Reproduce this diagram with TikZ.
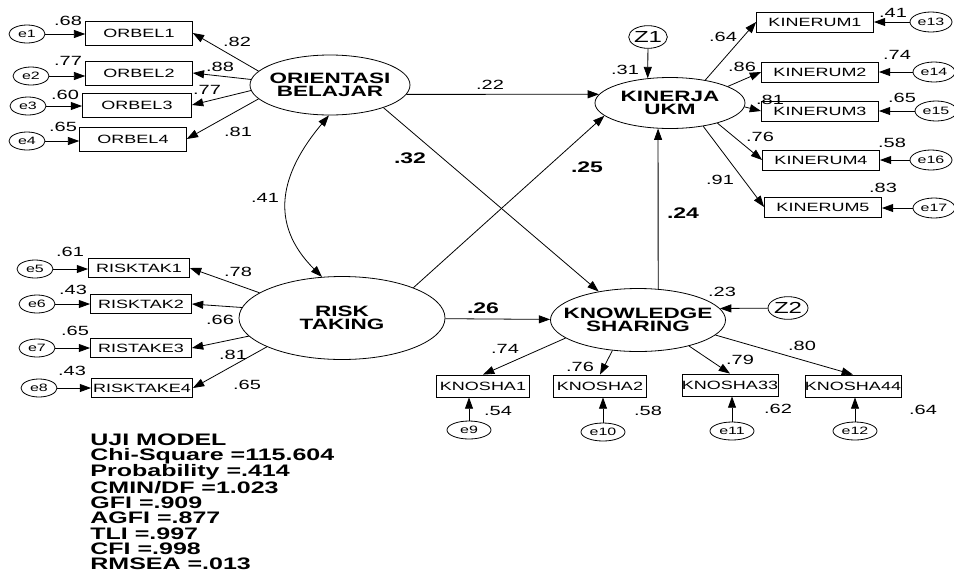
\documentclass[tikz,border=0pt]{standalone}
\usepackage{fontspec}
\setmainfont{Liberation Sans}[FakeStretch=1.5]
\usetikzlibrary{arrows.meta,shapes}

\begin{document}
\begin{tikzpicture}[x=0.75pt,y=-0.75pt,line width=0.6pt,
	>={Triangle[length=8.5pt,width=6pt]},
	lat/.style={draw,ellipse,inner xsep=-30pt,inner ysep=-12pt,align=center,font=\fontsize{11.25}{10}\selectfont\bfseries},
	orbox/.style={draw,inner sep=0pt,minimum width=80pt,minimum height=18pt,font=\fontsize{9}{10}\selectfont},
	rtbox/.style={draw,inner sep=0pt,minimum width=75.75pt,minimum height=14.25pt,font=\fontsize{9}{10}\selectfont},
	kubox/.style={draw,inner sep=0pt,minimum width=87.75pt,minimum height=15pt,font=\fontsize{9}{10}\selectfont},
	ksbox/.style={draw,inner sep=0pt,minimum width=69.75pt,minimum height=16.5pt,font=\fontsize{9}{10}\selectfont},
	err/.style={draw,ellipse,inner sep=-4pt,minimum width=27pt,minimum height=13.5pt,font=\fontsize{8}{9}\selectfont},
	dist/.style={draw,ellipse,inner sep=-6pt,minimum width=29pt,minimum height=17pt,font=\fontsize{12}{13}\selectfont},
	lbl/.style={inner sep=0pt,font=\fontsize{10}{11}\selectfont},
	blbl/.style={inner sep=0pt,font=\fontsize{11.5}{12}\selectfont\bfseries}]

	\useasboundingbox (0,0) rectangle (954,572);

	% latent variables
	\node[lat,minimum width=120pt,minimum height=45pt] (ORB) at (330,85) {ORIENTASI\\BELAJAR};
	\node[lat,minimum width=112.5pt,minimum height=38.25pt] (KIN) at (670,103) {KINERJA\\UKM};
	\node[lat,minimum width=154.5pt,minimum height=62.25pt] (RT) at (342,318) {RISK\\TAKING};
	\node[lat,minimum width=131.25pt,minimum height=47.25pt] (KS) at (638,320) {KNOWLEDGE\\SHARING};
	\node[dist] (Z1) at (648,37) {Z1};
	\node[dist,minimum width=30pt] (Z2) at (788,308) {Z2};

	% indicators
	\node[orbox] (OB1) at (139,33) {ORBEL1};
	\node[orbox] (OB2) at (139,73) {ORBEL2};
	\node[orbox,minimum width=81.75pt] (OB3) at (137,105) {ORBEL3};
	\node[orbox] (OB4) at (133,139) {ORBEL4};
	\node[rtbox] (RK1) at (139,268) {RISKTAK1};
	\node[rtbox] (RK2) at (141,304) {RISKTAK2};
	\node[rtbox] (RK3) at (141,348) {RISTAKE3};
	\node[rtbox] (RK4) at (142,388) {RISKTAKE4};
	\node[kubox] (KR1) at (815,22) {KINERUM1};
	\node[kubox] (KR2) at (820,72) {KINERUM2};
	\node[kubox] (KR3) at (820,111) {KINERUM3};
	\node[kubox] (KR4) at (821,160) {KINERUM4};
	\node[kubox] (KR5) at (823,207) {KINERUM5};
	\node[ksbox] (KN1) at (483,386) {KNOSHA1};
	\node[ksbox] (KN2) at (600,386) {KNOSHA2};
	\node[ksbox] (KN3) at (730,385) {KNOSHA33};
	\node[ksbox] (KN4) at (853,386) {KNOSHA44};

	% errors
	\node[err] (e1) at (27,34) {e1};
	\node[err] (e2) at (31,76) {e2};
	\node[err] (e3) at (28,106) {e3};
	\node[err] (e4) at (27,141) {e4};
	\node[err] (e5) at (35,269) {e5};
	\node[err] (e6) at (37,304) {e6};
	\node[err] (e7) at (37,348) {e7};
	\node[err] (e8) at (39,388) {e8};
	\node[err,minimum width=33pt] (e9) at (469,430) {e9};
	\node[err,minimum width=33pt] (e10) at (603,432) {e10};
	\node[err,minimum width=33pt] (e11) at (732,431) {e11};
	\node[err,minimum width=33pt] (e12) at (855,431) {e12};
	\node[err,minimum width=31.5pt,minimum height=15pt] (e13) at (931,22) {e13};
	\node[err,minimum width=31.5pt,minimum height=15pt] (e14) at (934,72) {e14};
	\node[err,minimum width=31.5pt,minimum height=15pt] (e15) at (936,111) {e15};
	\node[err,minimum width=31.5pt,minimum height=15pt] (e16) at (931,160) {e16};
	\node[err,minimum width=31.5pt,minimum height=15pt] (e17) at (934,208) {e17};

	% structural paths
	\draw[->] (ORB.-7) -- (KIN.173);
	\draw[->] (ORB.-23) -- (KS.144);
	\draw[->] (RT.23) -- (KIN.-169);
	\draw[->] (RT) -- (KS);
	\draw[->] (KS.57) -- (KIN.-115);
	\draw[<->] (ORB.-92) to[out=230,in=135,looseness=1.2] (RT.116);
	\draw[->] (Z1) -- (KIN.132);
	\draw[->] (Z2) -- (KS.8);

	% loadings
	\draw[->] (ORB.169) -- (OB1.east);
	\draw[->] (ORB.176) -- (OB2.east);
	\draw[->] (ORB.-176) -- (OB3.east);
	\draw[->] (ORB.-169) -- (OB4.east);
	\draw[->] (RT.163) -- (RK1.east);
	\draw[->] (RT.174) -- (RK2.east);
	\draw[->] (RT.-169) -- (RK3.east);
	\draw[->] (RT.-159) -- (RK4.east);
	\draw[->] (KIN.33) -- (KR1.west);
	\draw[->] (KIN.16) -- (KR2.west);
	\draw[->] (KIN.-3) -- (KR3.west);
	\draw[->] (KIN.-23) -- (KR4.west);
	\draw[->] (KIN.-35) -- (KR5.west);
	\draw[->] (KS.-166) -- (KN1.north);
	\draw[->] (KS.-130) -- (KN2.north);
	\draw[->] (KS.-27) -- (KN3.north);
	\draw[->] (KS.-11) -- (KN4.north);

	% error arrows
	\draw[->] (e1) -- (e1 -| OB1.west);
	\draw[->] (e2) -- (e2 -| OB2.west);
	\draw[->] (e3) -- (e3 -| OB3.west);
	\draw[->] (e4) -- (e4 -| OB4.west);
	\draw[->] (e5) -- (e5 -| RK1.west);
	\draw[->] (e6) -- (e6 -| RK2.west);
	\draw[->] (e7) -- (e7 -| RK3.west);
	\draw[->] (e8) -- (e8 -| RK4.west);
	\draw[->] (e9) -- (e9 |- KN1.south);
	\draw[->] (e10) -- (e10 |- KN2.south);
	\draw[->] (e11) -- (e11 |- KN3.south);
	\draw[->] (e12) -- (e12 |- KN4.south);
	\draw[->] (e13) -- (e13 -| KR1.east);
	\draw[->] (e14) -- (e14 -| KR2.east);
	\draw[->] (e15) -- (e15 -| KR3.east);
	\draw[->] (e16) -- (e16 -| KR4.east);
	\draw[->] (e17) -- (e17 -| KR5.east);

	% estimates
	\node[lbl] (rOB1) at (68,21) {.68};
	\node[lbl] (rOB2) at (68,61) {.77};
	\node[lbl] (rOB3) at (65,95) {.60};
	\node[lbl] (rOB4) at (63,127) {.65};
	\node[lbl] (lOB1) at (237,42) {.82};
	\node[lbl] (lOB2) at (220,67) {.88};
	\node[lbl] (lOB3) at (207,90) {.77};
	\node[lbl] (lOB4) at (238,132) {.81};
	\node[lbl] (rRK1) at (70,252) {.61};
	\node[lbl] (rRK2) at (73,290) {.43};
	\node[lbl] (rRK3) at (75,331) {.65};
	\node[lbl] (rRK4) at (72,371) {.43};
	\node[lbl] (lRK1) at (238,272) {.78};
	\node[lbl] (lRK2) at (220,320) {.66};
	\node[lbl] (lRK3) at (233,355) {.81};
	\node[lbl] (lRK4) at (247,385) {.65};
	\node[lbl] (bOK) at (490,85) {.22};
	\node[blbl] (bOS) at (410,158) {.32};
	\node[blbl] (bRK) at (587,167) {.25};
	\node[lbl] (cOR) at (265,198) {.41};
	\node[blbl] (bRS) at (483,308) {.26};
	\node[blbl] (bSK) at (683,213) {.24};
	\node[lbl] (rKIN) at (625,70) {.31};
	\node[lbl] (lKR1) at (723,37) {.64};
	\node[lbl] (lKR2) at (742,67) {.86};
	\node[lbl] (lKR3) at (770,100) {.81};
	\node[lbl] (lKR4) at (760,137) {.76};
	\node[lbl] (lKR5) at (720,180) {.91};
	\node[lbl] (rKR1) at (893,13) {.41};
	\node[lbl] (rKR2) at (897,55) {.74};
	\node[lbl] (rKR3) at (902,98) {.65};
	\node[lbl] (rKR4) at (892,143) {.58};
	\node[lbl] (rKR5) at (883,188) {.83};
	\node[lbl] (rKS) at (722,292) {.23};
	\node[lbl] (lKN1) at (505,349) {.74};
	\node[lbl] (lKN2) at (580,367) {.76};
	\node[lbl] (lKN3) at (740,360) {.79};
	\node[lbl] (lKN4) at (802,346) {.80};
	\node[lbl] (rKN1) at (498,411) {.54};
	\node[lbl] (rKN2) at (648,411) {.58};
	\node[lbl] (rKN3) at (778,409) {.62};
	\node[lbl] (rKN4) at (923,410) {.64};

	% fit indices
	\node[anchor=north west,inner sep=0pt,align=left,font=\fontsize{12.5}{11.3}\selectfont\bfseries] (fit) at (90,433)
		{UJI MODEL\\Chi-Square =115.604\\Probability =.414\\CMIN/DF =1.023\\GFI =.909\\AGFI =.877\\TLI =.997\\CFI =.998\\RMSEA =.013};
\end{tikzpicture}
\end{document}
